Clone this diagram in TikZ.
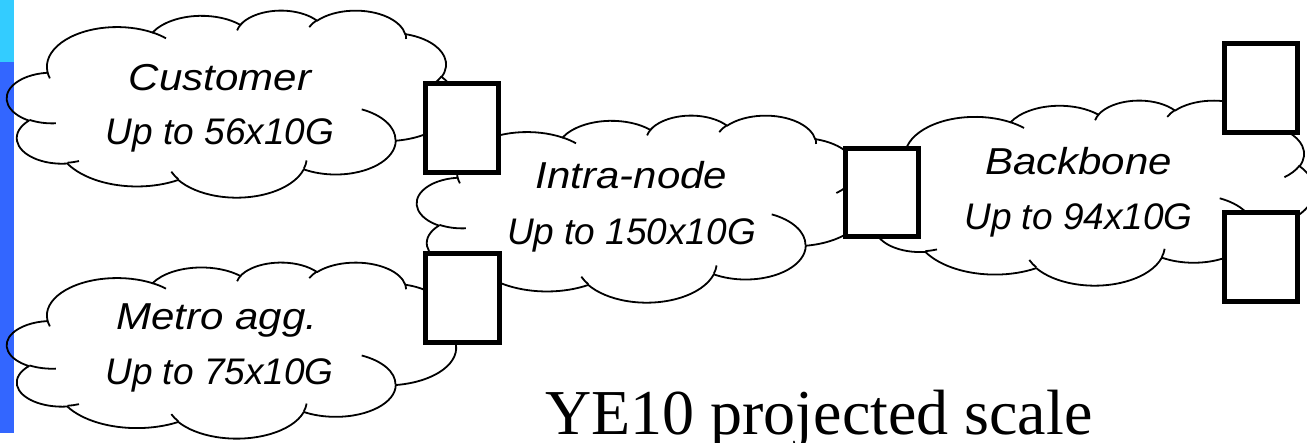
\documentclass[tikz,border=0pt]{standalone}
\usepackage{fontspec}
\usepackage{graphicx}
\setmainfont{Liberation Serif}
\newfontfamily\cloudfont{Liberation Sans}
\definecolor{barcyan}{HTML}{33CCFF}
\definecolor{barblue}{HTML}{3366FF}
\tikzset{
  cloudline/.style={draw=black, line width=1.8pt, line join=round},
  boxnode/.style={draw=black, fill=white, line width=5pt, inner sep=0pt,
                  minimum width=73pt, minimum height=89pt},
  headtext/.style={anchor=base, inner sep=0pt,
                   font=\cloudfont\itshape\fontsize{37.5}{40}\selectfont},
  subtext/.style={anchor=base, inner sep=0pt,
                  font=\cloudfont\itshape\fontsize{37}{40}\selectfont},
  titletext/.style={anchor=base west, inner sep=0pt,
                    font=\fontsize{64}{70}\selectfont},
}
\newcommand\drawcloud[4]{%
  \begin{scope}[shift={(#1,-#2)}, xscale=#3/43.2, yscale=-#4/43.2]
    \draw[cloudline] (3.9,14.37)
      arc[x radius=6.753, y radius=9.19,  start angle=\cSa, delta angle=\cDa]
      arc[x radius=5.333, y radius=7.267, start angle=\cSb, delta angle=\cDb]
      arc[x radius=4.365, y radius=5.945, start angle=\cSc, delta angle=\cDc]
      arc[x radius=4.857, y radius=6.595, start angle=\cSd, delta angle=\cDd]
      arc[x radius=5.333, y radius=7.273, start angle=\cSe, delta angle=\cDe]
      arc[x radius=6.775, y radius=9.22,  start angle=\cSf, delta angle=\cDf]
      arc[x radius=5.785, y radius=7.867, start angle=\cSg, delta angle=\cDg]
      arc[x radius=6.752, y radius=9.215, start angle=\cSh, delta angle=\cDh]
      arc[x radius=7.72,  y radius=10.543,start angle=\cSi, delta angle=\cDi]
      arc[x radius=4.36,  y radius=5.918, start angle=\cSj, delta angle=\cDj]
      arc[x radius=4.345, y radius=5.945, start angle=\cSk, delta angle=\cDk]
      -- cycle;
    \draw[cloudline]
      (4.693,26.177) arc[x radius=4.345, y radius=5.945, start angle=\cSl, delta angle=\cDl]
      (6.928,34.899) arc[x radius=4.36,  y radius=5.918, start angle=\cSm, delta angle=\cDm]
      (16.478,39.09) arc[x radius=6.752, y radius=9.215, start angle=\cSn, delta angle=\cDn]
      (28.827,34.751) arc[x radius=6.752, y radius=9.215, start angle=\cSo, delta angle=\cDo]
      (34.129,22.954) arc[x radius=5.785, y radius=7.867, start angle=\cSp, delta angle=\cDp]
      (41.798,15.354) arc[x radius=5.333, y radius=7.273, start angle=\cSq, delta angle=\cDq]
      (38.324,5.426) arc[x radius=4.857, y radius=6.595, start angle=\cSr, delta angle=\cDr]
      (29.078,3.952) arc[x radius=4.857, y radius=6.595, start angle=\cSs, delta angle=\cDs]
      (22.141,4.72)  arc[x radius=4.365, y radius=5.945, start angle=\cSt, delta angle=\cDt]
      (14.0,5.192)   arc[x radius=6.753, y radius=9.19,  start angle=\cSu, delta angle=\cDu]
      (4.127,15.789) arc[x radius=6.753, y radius=9.19,  start angle=\cSv, delta angle=\cDv];
  \end{scope}}
\begin{document}
\begin{tikzpicture}[x=1pt, y=1pt]
  \foreach \Cid/\Cw/\Ch/\Cst/\Csw in {
      a/6.753/9.19/-190.4875/123.7805, b/5.333/7.267/-144.1024/89.9452,
      c/4.365/5.945/-145.8079/99.7230, d/4.857/6.595/-130.9861/117.2417,
      e/5.333/7.273/-78.7089/109.0269, f/6.775/9.22/-46.2673/130.2690,
      g/5.785/7.867/0.6250/114.0333, h/6.752/9.215/22.4516/115.1726,
      i/7.72/10.543/66.2426/75.7110, j/4.36/5.918/-274.9421/146.7356,
      k/4.345/5.945/-246.8285/152.5189,
      l/4.345/5.945/86.7420/26.4295, m/4.36/5.918/73.6105/11.4475,
      n/6.752/9.215/137.6242/14.0811, o/6.752/9.215/6.4533/15.9984,
      p/5.785/7.867/-70.2924/70.9174, q/5.333/7.273/30.3180/27.7515,
      r/4.857/6.595/-13.7443/14.8589, s/4.857/6.595/-149.1815/18.1954,
      t/4.365/5.945/-163.4943/17.6864, u/6.753/9.19/-66.7070/12.3194,
      v/6.753/9.19/157.6544/11.8582}{%
    \pgfmathsetmacro\CangA{\Cst}%
    \pgfmathsetmacro\CangB{\Cst+\Csw}%
    \pgfmathsetmacro\CtA{atan2(\Cw*sin(\CangA),\Ch*cos(\CangA))}%
    \pgfmathsetmacro\CtB{atan2(\Cw*sin(\CangB),\Ch*cos(\CangB))}%
    \pgfmathsetmacro\CtD{mod(\CtB-\CtA+720,360)}%
    \expandafter\xdef\csname cS\Cid\endcsname{\CtA}%
    \expandafter\xdef\csname cD\Cid\endcsname{\CtD}%
  }
  \fill[white] (0,0) rectangle (1307,-443);
  \useasboundingbox (0,0) rectangle (1307,-443);
  % side bar
  \fill[barcyan] (0,0) rectangle (14,-62);
  \fill[barblue] (0,-62) rectangle (14,-433);
  % clouds
  \drawcloud{7}{10}{449}{187}
  \drawcloud{7}{262}{449}{176}
  \drawcloud{417}{115}{449}{187}
  \drawcloud{865}{100}{449}{185}
  % boxes
  \node[boxnode] (boxA) at (462,-128) {};
  \node[boxnode, minimum width=74pt] (boxB) at (462.5,-298) {};
  \node[boxnode, minimum height=88pt] (boxC) at (882,-192.5) {};
  \node[boxnode] (boxD) at (1261,-88) {};
  \node[boxnode] (boxE) at (1261,-257) {};
  % cloud texts
  \node[headtext] (custA) at (220,-91) {\scalebox{1.12}[1]{Customer}};
  \node[subtext]  (custB) at (220,-145) {Up to 56x10G};
  \node[headtext] (metroA) at (217,-330) {\scalebox{1.12}[1]{Metro agg.}};
  \node[subtext]  (metroB) at (219.5,-385) {Up to 75x10G};
  \node[headtext] (intraA) at (631.5,-189) {\scalebox{1.12}[1]{Intra-node}};
  \node[subtext]  (intraB) at (631.5,-245) {Up to 150x10G};
  \node[headtext] (backA) at (1078.5,-175) {\scalebox{1.12}[1]{Backbone}};
  \node[subtext]  (backB) at (1078.5,-230) {Up to 94x10G};
  % title
  \node[titletext] (title) at (545,-435) {YE10 projected scale};
\end{tikzpicture}
\end{document}
